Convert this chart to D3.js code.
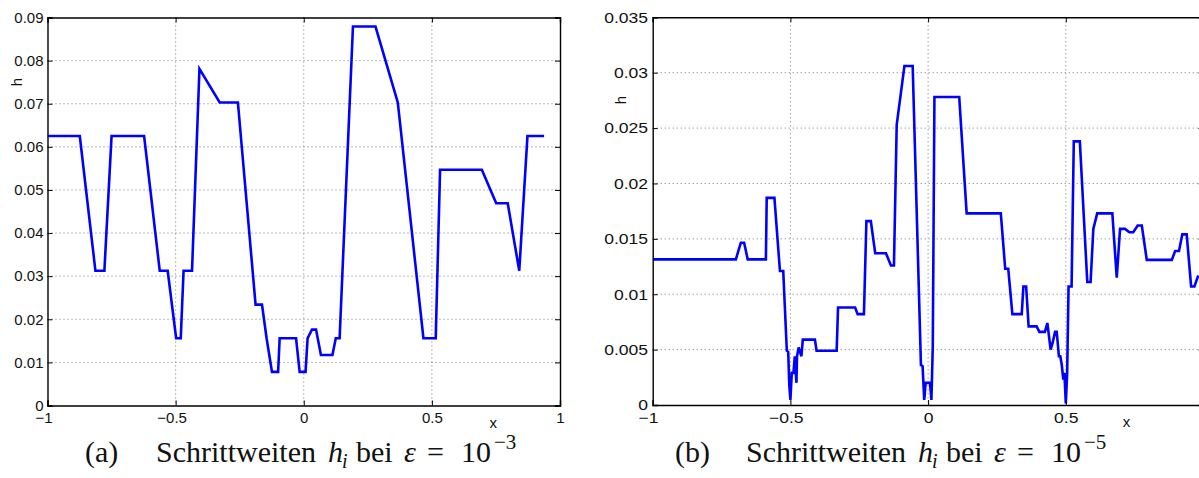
<!DOCTYPE html>
<html>
<head>
<meta charset="utf-8">
<script src="https://cdn.jsdelivr.net/npm/d3@7"></script>
<style>
body { margin: 0; background: #fff; }
svg { display: block; }
.cap { font-family: "Liberation Serif", "DejaVu Serif", serif; fill: #111; }
</style>
</head>
<body>
<script>
var width = 1199
var height = 478

// (a) eps = 1e-3
var xa = [-1, -0.874, -0.813, -0.778, -0.75, -0.623, -0.562, -0.531, -0.498, -0.48, -0.469, -0.436,
	-0.407, -0.328, -0.257, -0.188, -0.163, -0.145, -0.124, -0.10, -0.094, -0.030, -0.016, 0.007,
	0.015, 0.032, 0.048, 0.067, 0.112, 0.125, 0.14, 0.192, 0.28, 0.367, 0.467, 0.515, 0.532,
	0.695, 0.751, 0.796, 0.841, 0.873, 0.938]
var ha = [0.0625, 0.0625, 0.03125, 0.03125, 0.0625, 0.0625, 0.03125, 0.03125, 0.0156, 0.0156, 0.03125, 0.03125,
	0.0781, 0.0703, 0.0703, 0.0234, 0.0234, 0.0156, 0.0078, 0.0078, 0.0156, 0.0156, 0.0078, 0.0078,
	0.0156, 0.0176, 0.0176, 0.0117, 0.0117, 0.0156, 0.0156, 0.0879, 0.0879, 0.0703, 0.0156, 0.0156, 0.0547,
	0.0547, 0.0469, 0.0469, 0.03125, 0.0625, 0.0625]

// (b) eps = 1e-5
var xb = [-1, -0.698, -0.680, -0.668, -0.655, -0.589, -0.586, -0.558, -0.538, -0.526, -0.513, -0.508,
	-0.504, -0.50, -0.495, -0.489, -0.484, -0.478, -0.476, -0.47, -0.46, -0.455, -0.411, -0.405,
	-0.332, -0.327, -0.265, -0.256, -0.233, -0.224, -0.208, -0.192, -0.153, -0.135, -0.124, -0.114,
	-0.086, -0.056, -0.026, -0.020, -0.014, -0.009, 0.007, 0.012, 0.017, 0.023, 0.113, 0.140,
	0.264, 0.280, 0.291, 0.306, 0.34, 0.346, 0.356, 0.365, 0.394, 0.404, 0.424, 0.433, 0.445,
	0.452, 0.461, 0.467, 0.475, 0.48, 0.485, 0.491, 0.495, 0.50, 0.505, 0.51, 0.521, 0.529,
	0.551, 0.578, 0.59, 0.60, 0.614, 0.669, 0.685, 0.697, 0.715, 0.731, 0.745, 0.761, 0.776,
	0.794, 0.885, 0.897, 0.911, 0.923, 0.939, 0.955, 0.967, 0.981]
var hb = [0.01315, 0.01315, 0.01465, 0.01465, 0.01315, 0.01315, 0.0187, 0.0187, 0.0121, 0.0121, 0.0049, 0.0048,
	0.0018, 0.00045, 0.0029, 0.0029, 0.0044, 0.0020, 0.0044, 0.0052, 0.0044, 0.0059, 0.0059, 0.0049,
	0.0049, 0.0088, 0.0088, 0.0082, 0.0082, 0.0166, 0.0166, 0.0137, 0.0137, 0.0126, 0.0126, 0.0253,
	0.0306, 0.0306, 0.0036, 0.0035, 0.00045, 0.0020, 0.0020, 0.00045, 0.0053, 0.0278, 0.0278, 0.0173,
	0.0173, 0.0123, 0.0123, 0.0082, 0.0082, 0.0107, 0.0107, 0.0071, 0.0071, 0.0066, 0.0066, 0.0074, 0.0050,
	0.0056, 0.0066, 0.0066, 0.0044, 0.0044, 0.0037, 0.0023, 0.0029, 0.00015, 0.0029, 0.0107, 0.0107, 0.0238,
	0.0238, 0.0111, 0.0111, 0.0159, 0.0173, 0.0173, 0.0115, 0.0159, 0.0159, 0.0156, 0.0156, 0.0162, 0.0162,
	0.0131, 0.0131, 0.0139, 0.0139, 0.0154, 0.0154, 0.0107, 0.0107, 0.0117]

var xTicks = [-1, -0.5, 0, 0.5, 1]
var yTicksA = [0, 0.01, 0.02, 0.03, 0.04, 0.05, 0.06, 0.07, 0.08, 0.09]
var yTicksB = [0, 0.005, 0.01, 0.015, 0.02, 0.025, 0.03, 0.035]

var svg = d3.select('body')
	.append('svg')
	.attr('width', width)
	.attr('height', height)

var sans = 'Liberation Sans, Arial, sans-serif'

function fmt(v) {
	if (v === 0) return '0'
	return String(+v.toFixed(3)).replace('-', '\u2212')
}

// stretch: the right figure's text is wider in the source
function panel(id, left, top, w, h, xs, ys, yTicks, yMax, xLab, stretch) {
	var x = d3.scaleLinear().domain([-1, 1]).range([0, w])
	var y = d3.scaleLinear().domain([0, yMax]).range([h, 0])
	var g = svg.append('g').attr('transform', 'translate(' + left + ',' + top + ')')

	g.append('clipPath').attr('id', id)
		.append('rect').attr('width', w).attr('height', h)

	// grid
	var grid = g.append('g')
	grid.selectAll('line.gx')
		.data(xTicks.slice(1, -1))
		.enter().append('line')
		.attr('x1', d => x(d)).attr('x2', d => x(d))
		.attr('y1', 0).attr('y2', h)
	grid.selectAll('line.gy')
		.data(yTicks.slice(1, -1))
		.enter().append('line')
		.attr('x1', 0).attr('x2', w)
		.attr('y1', d => y(d)).attr('y2', d => y(d))
	grid.selectAll('line')
		.attr('stroke', '#777')
		.attr('stroke-width', 1)
		.attr('stroke-dasharray', '1,3')

	var line = d3.line().x(d => x(d[0])).y(d => y(d[1]))
	g.append('path')
		.datum(d3.zip(xs, ys))
		.attr('clip-path', 'url(#' + id + ')')
		.attr('fill', 'none')
		.attr('stroke', '#0000ff')
		.attr('stroke-width', 2.6)
		.attr('d', line)

	var xLabVals = xTicks.filter(d => left + x(d) < width - 5)
	var bottom = g.append('g').attr('transform', 'translate(0,' + h + ')')
		.call(d3.axisBottom(x).tickValues(xTicks).tickSize(-5).tickPadding(7)
			.tickFormat(d => xLabVals.indexOf(d) >= 0 ? fmt(d) : ''))
	var ax = [
		bottom,
		g.append('g')
			.call(d3.axisTop(x).tickValues(xTicks).tickSize(-5).tickFormat('')),
		g.append('g')
			.call(d3.axisLeft(y).tickValues(yTicks).tickSize(-5).tickPadding(4).tickFormat(fmt)),
		g.append('g').attr('transform', 'translate(' + w + ',0)')
			.call(d3.axisRight(y).tickValues(yTicks).tickSize(-5).tickFormat(''))
	]
	ax.forEach(a => {
		a.select('.domain').attr('stroke', '#000').attr('stroke-width', 1.4)
		a.selectAll('.tick line').attr('stroke', '#000')
		a.selectAll('.tick text')
			.attr('font-family', sans)
			.attr('font-size', 15)
			.attr('fill', '#111')
			.attr('transform', 'scale(' + stretch + ',1)')
	})
	bottom.selectAll('.tick text').attr('dx', d => d < 0 ? -4 : 0)

	g.append('text')
		.attr('x', xLab).attr('y', h + 22)
		.attr('font-family', sans)
		.attr('font-size', 15).attr('fill', '#111')
		.text('x')
	return g
}

panel('ca', 47.5, 17.5, 512.5, 388, xa, ha, yTicksA, 0.09, 442, 1)
panel('cb', 652.7, 17.3, 550.8, 387.7, xb, hb, yTicksB, 0.035, 470, 1.17)

svg.append('text')
	.attr('transform', 'translate(22,82) rotate(-90)')
	.attr('text-anchor', 'middle')
	.attr('font-family', sans)
	.attr('font-size', 15).attr('fill', '#111')
	.text('h')
svg.append('text')
	.attr('transform', 'translate(626,100) rotate(-90)')
	.attr('text-anchor', 'middle')
	.attr('font-family', sans)
	.attr('font-size', 15).attr('fill', '#111')
	.text('h')

// captions
function caption(x0, letter, exp) {
	var y = 462
	var t = svg.append('g').attr('class', 'cap').attr('font-size', 30)
	t.append('text').attr('x', x0).attr('y', y).text('(' + letter + ')')
	t.append('text').attr('x', x0 + 71).attr('y', y).text('Schrittweiten')
	t.append('text').attr('x', x0 + 243).attr('y', y).attr('font-style', 'italic').text('h')
	t.append('text').attr('x', x0 + 257).attr('y', y + 6).attr('font-style', 'italic').attr('font-size', 20).text('i')
	t.append('text').attr('x', x0 + 271).attr('y', y).text('bei')
	t.append('text').attr('x', x0 + 319).attr('y', y).attr('font-style', 'italic').text('\u03b5')
	t.append('text').attr('x', x0 + 342).attr('y', y).text('=')
	t.append('text').attr('x', x0 + 376).attr('y', y).text('10')
	t.append('text').attr('x', x0 + 409).attr('y', y - 13).attr('font-size', 21).text('\u2212' + exp)
}
caption(85, 'a', '3')
caption(675, 'b', '5')
</script>
</body>
</html>
